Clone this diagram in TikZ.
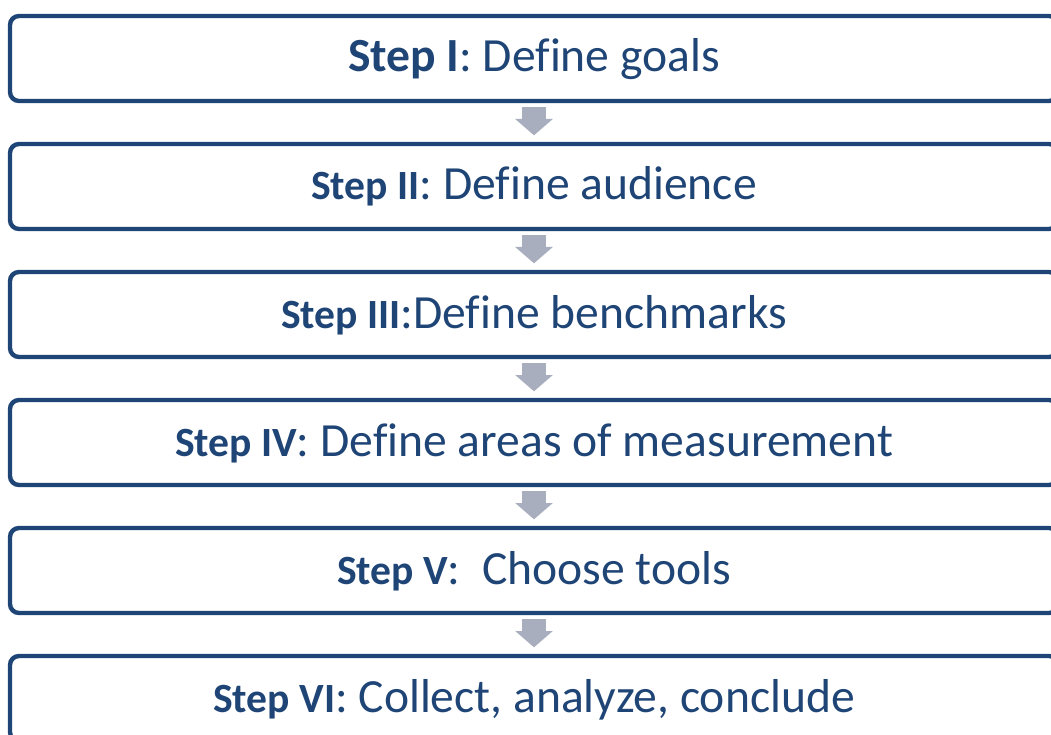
\documentclass[tikz,border=0pt]{standalone}
\usepackage{fontspec}
\setmainfont{Carlito}[Ligatures=NoCommon]
\usepackage{xcolor}
\usetikzlibrary{arrows.meta}
\definecolor{azulpaso}{RGB}{31,69,118}
\definecolor{grisflecha}{RGB}{168,174,190}
\newcommand{\paso}[1]{{\fontsize{41.6pt}{48pt}\selectfont\bfseries #1}}

\begin{document}
\begin{tikzpicture}[x=1pt,y=1pt,
		caja/.style={draw=azulpaso, line width=4.4pt, rounded corners=9pt,
			minimum width=1048pt, minimum height=85pt, inner sep=0pt,
			text height=27pt, text depth=0pt, text=azulpaso,
			font=\fontsize{47.6pt}{56pt}\selectfont},
		flecha/.style={draw=grisflecha, line width=24pt,
			-{Triangle[width=37.6pt,length=16.3pt,line width=0pt]},
			shorten <=4pt, shorten >=6.5pt}]
		\clip (0,0) rectangle (1051,-735);
		% dibuja las cajas de los pasos, una debajo de otra
		\foreach \n/\texto in {1/{\textbf{Step I}: Define goals},
			2/{\paso{Step II}: Define audience},
			3/{\paso{Step III}:Define benchmarks},
			4/{\paso{Step IV}: Define areas of measurement},
			5/{\paso{Step V}:\ \ Choose tools},
			6/{\paso{Step VI}: Collect, analyze, conclude}} {
				\node[caja] (s\n) at (534,{-58.5-128*(\n-1)}) {\texto};
			}
		% flechas grises entre cajas seguidas
		\foreach \a/\b in {1/2,2/3,3/4,4/5,5/6}
			\draw[flecha] (s\a) -- (s\b);
	\end{tikzpicture}
\end{document}
